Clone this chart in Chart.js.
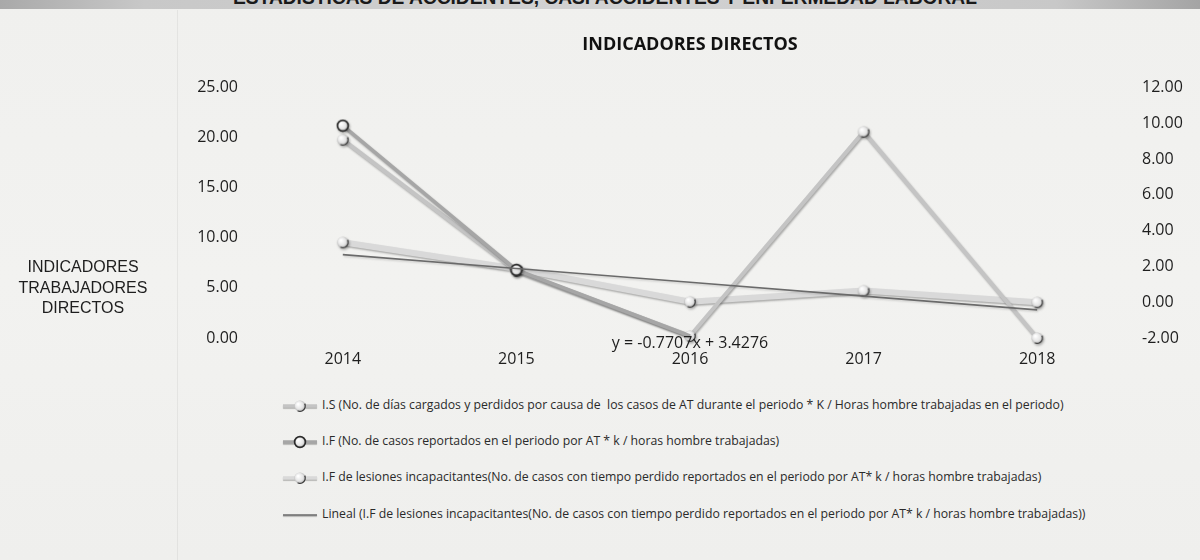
<!DOCTYPE html>
<html>
<head>
<meta charset="utf-8">
<script src="https://cdn.jsdelivr.net/npm/chart.js@4.4.1/dist/chart.umd.min.js"></script>
<style>
  html, body { margin:0; padding:0; }
  body { width:1200px; height:560px; position:relative; overflow:hidden;
         background: linear-gradient(180deg,#f0f0ee 0%,#f2f2f0 50%,#efefed 100%); font-family:"Open Sans", sans-serif; }
  #band { position:absolute; left:0; top:0; width:1200px; height:9px; overflow:hidden;
          background: linear-gradient(90deg,#a9a9a9 0%,#c8c8c8 12%,#d2d2d2 50%,#c8c8c8 88%,#a4a4a4 100%); }
  #bandText { position:absolute; top:-14px; left:0; white-space:nowrap; font:bold 20px "Liberation Sans", Arial, sans-serif;
              color:#1a1a1a; transform-origin:0 0; }
  #vline { position:absolute; left:177px; top:10px; width:1px; height:550px; background:rgba(0,0,0,0.05); }
  #chartWrap { position:absolute; left:0; top:0; width:1200px; height:385px; }
  #sideLabel { position:absolute; left:0; top:257px; width:166px; text-align:center;
               font:16px "Liberation Sans", Arial, sans-serif; line-height:20.5px; color:#1e1e1e; }
  #legend { position:absolute; left:281px; top:0; }
  .lg { position:absolute; left:0; height:16px; white-space:pre; font:12.25px "Open Sans", sans-serif; color:#2a2a2a; }
  .lg canvas { position:absolute; left:0; top:1px; }
  .lg span { position:absolute; left:41px; top:-1px; line-height:16px; }
</style>
</head>
<body>
<div id="band"><div id="bandText"></div></div>
<div id="vline"></div>
<div id="chartWrap"><canvas id="c" width="1200" height="385"></canvas></div>
<div id="sideLabel">INDICADORES<br>TRABAJADORES<br>DIRECTOS</div>
<div id="legend"></div>
<script>
// ---------- data ----------
const headerText = "ESTADISTICAS DE ACCIDENTES, CASI ACCIDENTES Y ENFERMEDAD LABORAL";
const chartTitle = "INDICADORES DIRECTOS";
const years = ["2014", "2015", "2016", "2017", "2018"];
const isLabel = "I.S (No. de días cargados y perdidos por causa de  los casos de AT durante el periodo * K / Horas hombre trabajadas en el periodo)";
const ifLabel = "I.F (No. de casos reportados en el periodo por AT * k / horas hombre trabajadas)";
const ifLesLabel = "I.F de lesiones incapacitantes(No. de casos con tiempo perdido reportados en el periodo por AT* k / horas hombre trabajadas)";
const trendLabel = "Lineal (I.F de lesiones incapacitantes(No. de casos con tiempo perdido reportados en el periodo por AT* k / horas hombre trabajadas))";
const isValues = [19.8, 6.7, 0.2, 20.6, 0.0];          // left axis
const ifValues = [21.2, 6.8, 0.2, null, null];         // left axis
const ifLesValues = [3.35, 1.87, 0.03, 0.65, 0.0];     // right axis
const trendValues = [2.657, 1.886, 1.116, 0.345, -0.426]; // right axis, from the printed equation
const trendEquation = "y = -0.7707x + 3.4276";
const leftTicks = { min: 0, max: 25, step: 5 };
const rightTicks = { min: -2, max: 12, step: 2 };

// ---------- header ----------
const bt = document.getElementById('bandText');
bt.textContent = headerText;
(function(){
  const m = document.createElement('canvas').getContext('2d');
  m.font = 'bold 20px "Liberation Sans", Arial, sans-serif';
  const w = m.measureText(headerText).width;
  bt.style.left = '233px';
  bt.style.transform = 'scaleX(' + (746 / w) + ')';
})();

// ---------- marker images ----------
function makeBall(ring) {
  const s = 14, c = document.createElement('canvas');
  c.width = s; c.height = s;
  const g = c.getContext('2d');
  const grad = g.createRadialGradient(5, 5, 0.5, 7, 7, 6.5);
  grad.addColorStop(0, '#ffffff');
  grad.addColorStop(0.55, '#e6e6e6');
  grad.addColorStop(1, '#a8a8a8');
  g.beginPath(); g.arc(7, 7, 5.6, 0, Math.PI * 2); g.fillStyle = grad; g.fill();
  if (ring) {
    g.lineWidth = 1.7; g.strokeStyle = '#2b2b2b';
    g.beginPath(); g.arc(7, 7, 5.4, 0, Math.PI * 2); g.stroke();
  } else {
    g.lineWidth = 1.3; g.strokeStyle = '#3c3c3c';
    g.beginPath(); g.arc(7, 7, 5.3, -0.15 * Math.PI, 0.65 * Math.PI); g.stroke();
  }
  return c;
}
const ballImg = makeBall(false);
const ringImg = makeBall(true);

// ---------- plugins ----------
const shadowPlugin = {
  id: 'tubeShadow',
  beforeDatasetDraw(chart, args) {
    const ctx = chart.ctx; ctx.save();
    const isTrend = args.index === 3;
    ctx.shadowColor = isTrend ? 'rgba(0,0,0,0.15)' : 'rgba(0,0,0,0.3)';
    ctx.shadowOffsetX = 1; ctx.shadowOffsetY = 1.5; ctx.shadowBlur = 2;
  },
  afterDatasetDraw(chart) { chart.ctx.restore(); }
};
const equationPlugin = {
  id: 'equation',
  afterDatasetsDraw(chart) {
    const ctx = chart.ctx;
    const x = chart.scales.x.getPixelForValue(2);
    const y = chart.scales.y1.getPixelForValue(rightTicks.min) + 5;
    ctx.save();
    ctx.font = '16px "Open Sans", sans-serif';
    ctx.fillStyle = '#1e1e1e'; ctx.textAlign = 'center'; ctx.textBaseline = 'middle';
    ctx.fillText(trendEquation, x, y);
    ctx.restore();
  }
};

const tickFont = { family: '"Open Sans", sans-serif', size: 16 };

const chart = new Chart(document.getElementById('c'), {
  type: 'line',
  data: {
    labels: years,
    datasets: [
      { label: isLabel, data: isValues, yAxisID: 'y', borderColor: '#c4c4c4', borderWidth: 4,
        pointStyle: ballImg, order: 3, tension: 0, clip: false },
      { label: ifLabel, data: ifValues, yAxisID: 'y', borderColor: '#a6a6a6', borderWidth: 3.5,
        pointStyle: [ringImg, ringImg, false, false, false], order: 2, tension: 0, clip: false },
      { label: ifLesLabel, data: ifLesValues, yAxisID: 'y1', borderColor: '#d9d9d9', borderWidth: 6,
        pointStyle: ballImg, order: 4, tension: 0, clip: false },
      { label: trendLabel, data: trendValues, yAxisID: 'y1', borderColor: '#6a6a6a', borderWidth: 1.7,
        pointRadius: 0, order: 1, tension: 0, clip: false }
    ]
  },
  options: {
    responsive: false,
    animation: false,
    events: [],
    layout: { padding: 0 },
    plugins: {
      legend: { display: false },
      tooltip: { enabled: false },
      title: { display: true, text: chartTitle, fullSize: false, color: '#111',
               font: { family: '"Open Sans", sans-serif', size: 18, weight: 'bold' },
               padding: { top: 34, bottom: 32 } }
    },
    scales: {
      x: { type: 'category', offset: true,
           grid: { display: false, drawTicks: false }, border: { display: false },
           ticks: { font: tickFont, color: '#1e1e1e', padding: 12, maxRotation: 0 },
           afterFit(s) { s.height = 47; } },
      y: { position: 'left', min: leftTicks.min, max: leftTicks.max,
           grid: { display: false, drawTicks: false }, border: { display: false },
           ticks: { stepSize: leftTicks.step, font: tickFont, color: '#1e1e1e', padding: 18,
                    callback: v => Number(v).toFixed(2) },
           afterFit(s) { s.width = 256; } },
      y1: { position: 'right', min: rightTicks.min, max: rightTicks.max,
            grid: { display: false, drawTicks: false }, border: { display: false },
            ticks: { stepSize: rightTicks.step, font: tickFont, color: '#1e1e1e', padding: 18,
                     callback: v => Number(v).toFixed(2) },
            afterFit(s) { s.width = 76; } }
    }
  },
  plugins: [shadowPlugin, equationPlugin]
});

// ---------- HTML legend built from the chart's datasets ----------
const legendEl = document.getElementById('legend');
const rowCenters = [406, 442, 478, 515];
chart.data.datasets.forEach((ds, i) => {
  const row = document.createElement('div');
  row.className = 'lg';
  row.style.top = (rowCenters[i] - 8) + 'px';
  const cv = document.createElement('canvas');
  cv.width = 38; cv.height = 14;
  const g = cv.getContext('2d');
  g.shadowColor = 'rgba(0,0,0,0.3)'; g.shadowOffsetY = 1; g.shadowBlur = 1;
  g.strokeStyle = ds.borderColor; g.lineWidth = Math.min(ds.borderWidth, 3.5);
  g.beginPath(); g.moveTo(2, 7); g.lineTo(36, 7); g.stroke();
  g.shadowColor = 'transparent';
  const ps = Array.isArray(ds.pointStyle) ? ds.pointStyle[0] : ds.pointStyle;
  if (ps && typeof ps === 'object') g.drawImage(ps, 12, 0);
  row.appendChild(cv);
  const sp = document.createElement('span');
  sp.textContent = ds.label;
  row.appendChild(sp);
  legendEl.appendChild(row);
});
</script>
</body>
</html>
